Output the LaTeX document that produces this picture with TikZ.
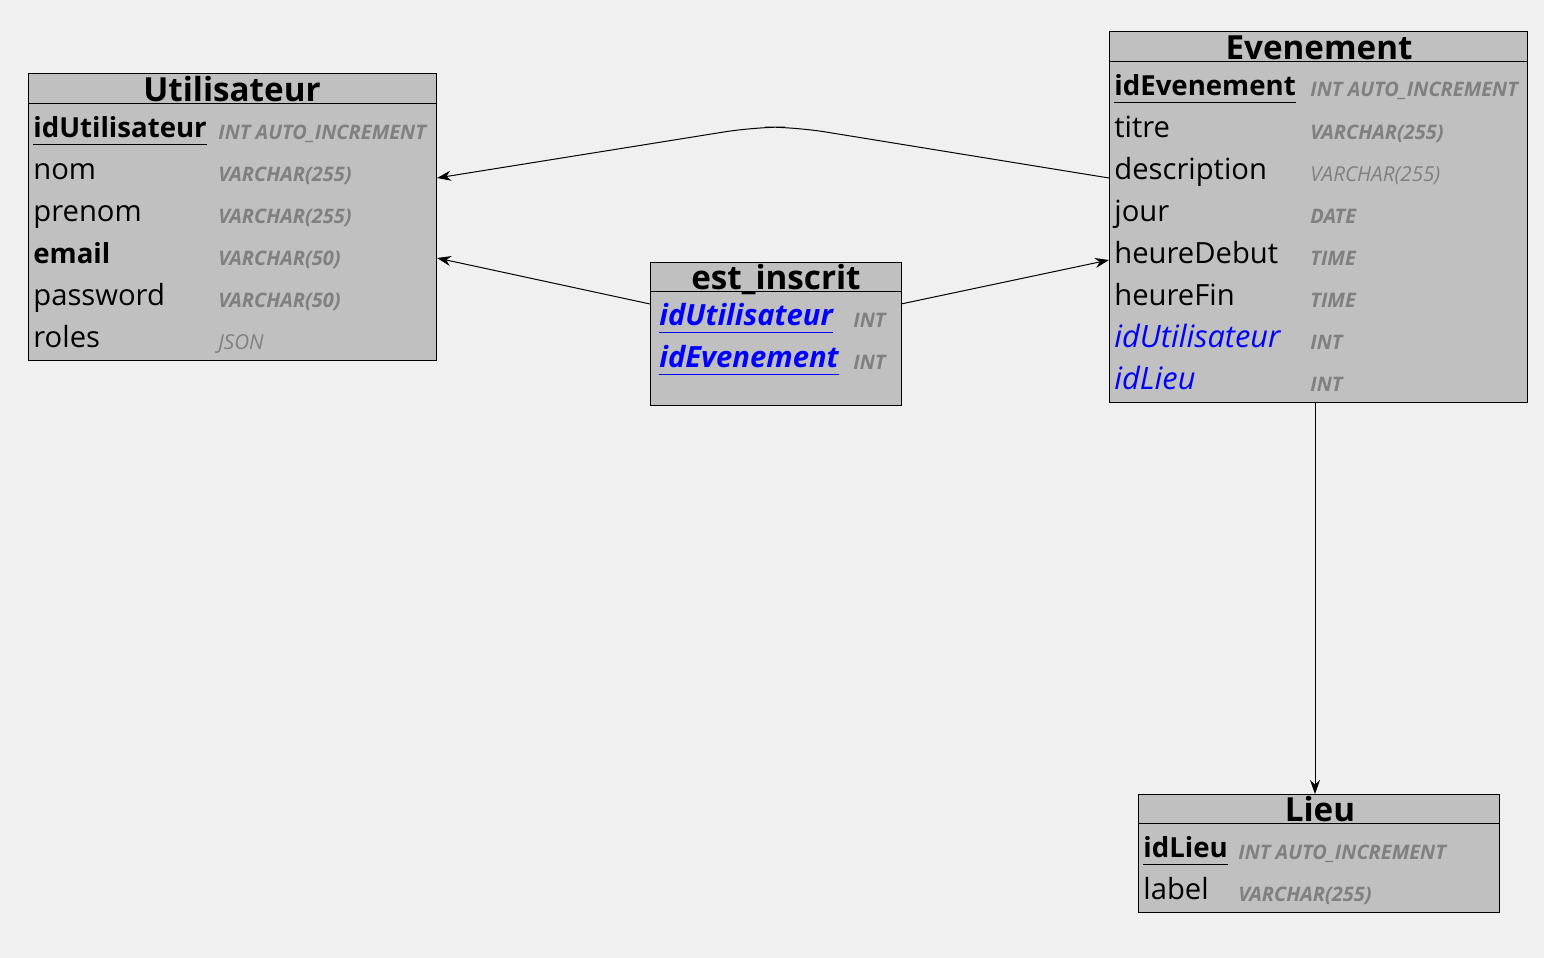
\documentclass[tikz,border=0pt]{standalone}
\usepackage{fontspec}
\setmainfont{Open Sans}
\usetikzlibrary{arrows.meta}
\definecolor{bgcolor}{HTML}{F0F0F0}
\definecolor{tablefill}{HTML}{C0C0C0}
\definecolor{typegray}{HTML}{808080}
\definecolor{fkblue}{HTML}{0000FF}
\begin{document}
\begin{tikzpicture}[x=0.5pt,y=-0.5pt] % the database schema
            \tikzstyle{every node}+=[inner sep=0pt]
            \tikzstyle{table}=[draw=black, fill=tablefill, line width=0.5pt, anchor=north west]
            \tikzstyle{title}=[anchor=base, font=\fontsize{16.6}{17}\selectfont\bfseries]
            \tikzstyle{field}=[anchor=base west, font=\fontsize{14.6}{15}\selectfont]
            \tikzstyle{pkfield}=[anchor=base west, font=\fontsize{13.8}{14}\selectfont\bfseries]
            \tikzstyle{fkfield}=[anchor=base west, text=fkblue, font=\fontsize{15.4}{16}\selectfont\itshape]
            \tikzstyle{pfkfield}=[anchor=base west, text=fkblue, font=\fontsize{14.6}{15}\selectfont\bfseries\itshape]
            \tikzstyle{ftype}=[anchor=base west, text=typegray, font=\fontsize{10}{10}\selectfont\bfseries\itshape]
            \tikzstyle{ftypelight}=[anchor=base west, text=typegray, font=\fontsize{10.3}{10}\selectfont\itshape]
            \tikzstyle{link}=[black, line width=0.5pt, -{Stealth[length=7pt,width=5pt]}]
            \fill [bgcolor] (0,0) rectangle (1544,958);
            \useasboundingbox (0,0) rectangle (1544,958);
            % Utilisateur
            \node [table, minimum width=204pt, minimum height=143.5pt] (util) at (28,73) {};
            \draw [black] ([yshift=-15pt]util.north west) -- ([yshift=-15pt]util.north east);
            \node [title] (utiltitle) at (232,101) {Utilisateur};
            \node [pkfield] (utilid) at (33,137) {idUtilisateur};
            \draw [black] ([yshift=-3.5pt]utilid.base west) -- ([yshift=-3.5pt]utilid.base east);
            \node [ftype] (utilidt) at (218,139) {INT AUTO\_INCREMENT};
            \node [field] (utilnom) at (33,179) {nom};
            \node [ftype] (utilnomt) at (218,181) {VARCHAR(255)};
            \node [field] (utilprenom) at (33,221) {prenom};
            \node [ftype] (utilprenomt) at (218,223) {VARCHAR(255)};
            \node [pkfield] (utilemail) at (33,263) {email};
            \node [ftype] (utilemailt) at (218,265) {VARCHAR(50)};
            \node [field] (utilpass) at (33,305) {password};
            \node [ftype] (utilpasst) at (218,307) {VARCHAR(50)};
            \node [field] (utilroles) at (33,347) {roles};
            \node [ftypelight] (utilrolest) at (218,349) {JSON};
            % est_inscrit
            \node [table, minimum width=125.5pt, minimum height=71.5pt] (insc) at (650,262) {};
            \draw [black] ([yshift=-14.5pt]insc.north west) -- ([yshift=-14.5pt]insc.north east);
            \node [title] (insctitle) at (776,289) {est\_inscrit};
            \node [pfkfield] (inscutil) at (659,325) {idUtilisateur};
            \draw [fkblue] ([yshift=-3.5pt]inscutil.base west) -- ([yshift=-3.5pt]inscutil.base east);
            \node [ftype] (inscutilt) at (853,327) {INT};
            \node [pfkfield] (inscevt) at (659,367) {idEvenement};
            \draw [fkblue] ([yshift=-3.5pt]inscevt.base west) -- ([yshift=-3.5pt]inscevt.base east);
            \node [ftype] (inscevtt) at (853,369) {INT};
            % Evenement
            \node [table, minimum width=209pt, minimum height=185.5pt] (evt) at (1109,31) {};
            \draw [black] ([yshift=-15pt]evt.north west) -- ([yshift=-15pt]evt.north east);
            \node [title] (evttitle) at (1319,59) {Evenement};
            \node [pkfield] (evtid) at (1114,95) {idEvenement};
            \draw [black] ([yshift=-3.5pt]evtid.base west) -- ([yshift=-3.5pt]evtid.base east);
            \node [ftype] (evtidt) at (1310,97) {INT AUTO\_INCREMENT};
            \node [field] (evttitre) at (1114,137) {titre};
            \node [ftype] (evttitret) at (1310,139) {VARCHAR(255)};
            \node [field] (evtdesc) at (1114,179) {description};
            \node [ftypelight] (evtdesct) at (1310,181) {VARCHAR(255)};
            \node [field] (evtjour) at (1114,221) {jour};
            \node [ftype] (evtjourt) at (1310,223) {DATE};
            \node [field] (evtdebut) at (1114,263) {heureDebut};
            \node [ftype] (evtdebutt) at (1310,265) {TIME};
            \node [field] (evtfin) at (1114,305) {heureFin};
            \node [ftype] (evtfint) at (1310,307) {TIME};
            \node [fkfield] (evtutil) at (1114,347) {idUtilisateur};
            \node [ftype] (evtutilt) at (1310,349) {INT};
            \node [fkfield] (evtlieu) at (1114,389) {idLieu};
            \node [ftype] (evtlieut) at (1310,391) {INT};
            % Lieu
            \node [table, minimum width=180.5pt, minimum height=59pt] (lieu) at (1138,794) {};
            \draw [black] ([yshift=-14.5pt]lieu.north west) -- ([yshift=-14.5pt]lieu.north east);
            \node [title] (lieutitle) at (1320,821) {Lieu};
            \node [pkfield] (lieuid) at (1143,857) {idLieu};
            \draw [black] ([yshift=-3.5pt]lieuid.base west) -- ([yshift=-3.5pt]lieuid.base east);
            \node [ftype] (lieuidt) at (1238,859) {INT AUTO\_INCREMENT};
            \node [field] (lieulabel) at (1143,899) {label};
            \node [ftype] (lieulabelt) at (1238,901) {VARCHAR(255)};
            % links
            \coordinate (evtout1) at (1109,178);
            \coordinate (bendr) at (795,127);
            \coordinate (bendl) at (755,127);
            \coordinate (utilin1) at (437,178);
            \coordinate (inscoutl) at (650,304);
            \coordinate (utilin2) at (437,258);
            \coordinate (inscoutr) at (901,304);
            \coordinate (evtin) at (1109,260);
            \coordinate (evtout2) at (1315,402);
            \coordinate (lieuin) at (1315,794);
            \draw [link, rounded corners=15pt] (evtout1) -- (bendr) -- (bendl) -- (utilin1);
            \draw [link] (inscoutl) -- (utilin2);
            \draw [link] (inscoutr) -- (evtin);
            \draw [link] (evtout2) -- (lieuin);
\end{tikzpicture}
\end{document}
